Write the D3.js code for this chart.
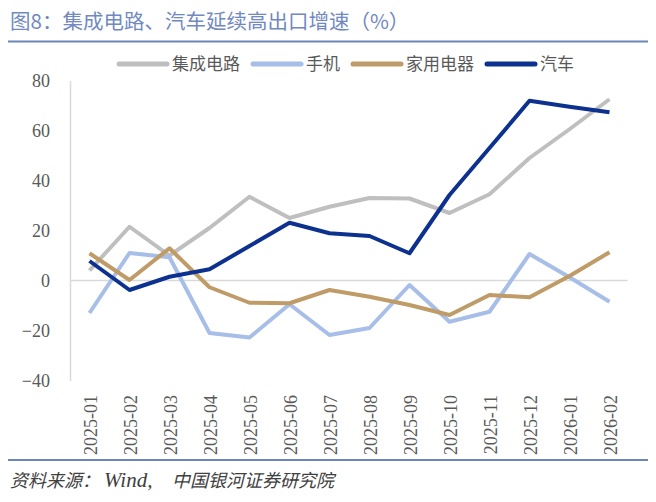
<!DOCTYPE html>
<html>
<head>
<meta charset="utf-8">
<script src="https://cdn.jsdelivr.net/npm/d3@7"></script>
<style>
  body { margin: 0; background: #fff; }
  svg { display: block; }
</style>
</head>
<body>
<div class="chart"></div>
<script>
// data
let months = ["2025-01", "2025-02", "2025-03", "2025-04", "2025-05", "2025-06", "2025-07",
  "2025-08", "2025-09", "2025-10", "2025-11", "2025-12", "2026-01", "2026-02"];
let chips = [4, 21.5, 10, 21, 33.5, 25, 29.5, 33, 32.8, 27, 34.5, 49, 60.5, 72.5];
let phones = [-13, 11, 9.3, -21, -22.8, -9.5, -21.8, -19, -1.8, -16.5, -12.5, 10.6, 1.3, -8.5];
let appliances = [10.9, 0.2, 12.9, -2.7, -8.9, -9.1, -3.8, -6.5, -9.8, -13.8, -5.8, -6.7, 1.8, 11.3];
let autos = [7.8, -3.8, 1.5, 4.5, 13.8, 23.1, 18.9, 17.8, 10.9, 34.2, 53, 71.9, 69.5, 67.3];
let yTicks = [-40, -20, 0, 20, 40, 60, 80];

let series = [
  { name: "集成电路", values: chips, color: "#bfbfbf" },
  { name: "手机", values: phones, color: "#a7bee8" },
  { name: "家用电器", values: appliances, color: "#bf9b68" },
  { name: "汽车", values: autos, color: "#0c318f" }
];

let svgWidth = 656;
let svgHeight = 502;
let serif = "'Liberation Serif', 'Times New Roman', serif";
let sans = "'Noto Sans CJK SC', 'Noto Sans', sans-serif";

let svg = d3.select(".chart")
  .append("svg")
  .attr("width", svgWidth)
  .attr("height", svgHeight);

// title + rules
svg.append("text")
  .attr("x", 10)
  .attr("y", 29)
  .attr("font-family", sans)
  .attr("font-size", "20.5px")
  .attr("fill", "#7189c0")
  .text("图8：集成电路、汽车延续高出口增速（%）");

svg.append("line")
  .attr("x1", 8).attr("x2", 648)
  .attr("y1", 41.5).attr("y2", 41.5)
  .attr("stroke", "#6d86b8")
  .attr("stroke-width", 2.2);

svg.append("line")
  .attr("x1", 8).attr("x2", 648)
  .attr("y1", 460).attr("y2", 460)
  .attr("stroke", "#6d86b8")
  .attr("stroke-width", 2.2);

let src = svg.append("text")
  .attr("y", 487)
  .attr("font-family", serif + ", 'Noto Sans CJK SC'")
  .attr("font-style", "italic")
  .attr("font-size", "18px")
  .attr("fill", "#404040");
src.append("tspan").attr("x", 10).text("资料来源：");
src.append("tspan").attr("x", 104).attr("font-size", "21px").text("Wind,");
src.append("tspan").attr("x", 172).text("中国银河证券研究院");

// scales
let xScale = d3.scaleBand()
  .domain(months)
  .range([69.5, 629.5])
  .padding(0);

let yScale = d3.scaleLinear()
  .domain([-40, 80])
  .range([380.5, 80.5]);

let cx = d => xScale(d) + xScale.bandwidth() / 2;

// y axis
let leftAxis = d3.axisLeft(yScale)
  .tickValues(yTicks)
  .tickSize(0)
  .tickPadding(20);

let yAxisG = svg.append("g")
  .attr("transform", "translate(70,0)")
  .call(leftAxis);
yAxisG.select(".domain").attr("stroke", "#d9d9d9").attr("stroke-width", 1.5);
yAxisG.selectAll("text")
  .attr("font-family", serif)
  .attr("font-size", "18px")
  .attr("fill", "#595959");

// zero line
svg.append("line")
  .attr("x1", 70).attr("x2", xScale.range()[1] - 2)
  .attr("y1", yScale(0)).attr("y2", yScale(0))
  .attr("stroke", "#d9d9d9")
  .attr("stroke-width", 1.5);

// x labels
let bottomAxis = d3.axisBottom(xScale).tickSize(0).tickPadding(0);
let xAxisG = svg.append("g")
  .attr("transform", "translate(0,395)")
  .call(bottomAxis);
xAxisG.select(".domain").remove();
xAxisG.selectAll("text")
  .attr("font-family", serif)
  .attr("font-size", "18px")
  .attr("fill", "#595959")
  .attr("text-anchor", "end")
  .attr("transform", "rotate(-90)")
  .attr("x", 0)
  .attr("y", 0)
  .attr("dx", 0)
  .attr("dy", "0.35em");
xAxisG.selectAll(".tick")
  .attr("transform", d => `translate(${cx(d) + 1},0)`);

// lines
let line = d3.line()
  .x((v, i) => cx(months[i]))
  .y(v => yScale(v));

svg.selectAll(".series")
  .data(series)
  .enter()
  .append("path")
  .attr("class", "series")
  .attr("d", d => line(d.values))
  .attr("fill", "none")
  .attr("stroke", d => d.color)
  .attr("stroke-width", 4)
  .attr("stroke-linejoin", "round");

// legend
let lx = 119;
series.forEach(s => {
  let g = svg.append("g");
  g.append("line")
    .attr("x1", lx).attr("x2", lx + 48)
    .attr("y1", 64).attr("y2", 64)
    .attr("stroke", s.color)
    .attr("stroke-width", 5)
    .attr("stroke-linecap", "round");
  let t = g.append("text")
    .attr("x", lx + 53)
    .attr("y", 64)
    .attr("dy", "0.35em")
    .attr("font-family", sans)
    .attr("font-size", "17px")
    .attr("fill", "#595959")
    .text(s.name);
  lx += 53 + t.node().getComputedTextLength() + 13;
});
</script>
</body>
</html>
